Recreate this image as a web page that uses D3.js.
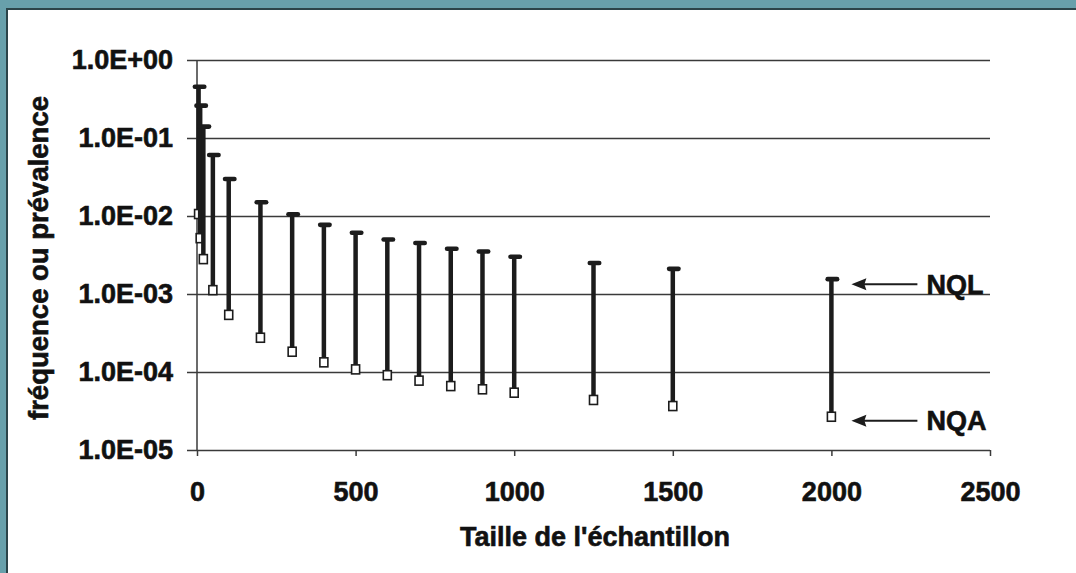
<!DOCTYPE html>
<meta charset="utf-8">
<style>

body {
  margin: 0;
  background: #fff;
}

text {
  font-family: "Liberation Sans", Arial, sans-serif;
  font-weight: bold;
  fill: #111;
  stroke: #111;
  stroke-width: 0.6;
}

.axis text {
  font-size: 27px;
}

.grid line,
.axis path,
.axis line {
  stroke: #3a3a3a;
  stroke-width: 1.5;
}

</style>
<body>
<script src="https://cdnjs.cloudflare.com/ajax/libs/d3/7.8.5/d3.min.js"></script>
<script>

// sample sizes and the two limits
var sizes = [5, 10, 20, 50, 100, 200, 300, 400, 500, 600, 700, 800, 900, 1000, 1250, 1500, 2000];
var nql = [0.455, 0.26, 0.14, 0.0605, 0.0298, 0.015, 0.0105, 0.0077, 0.0061, 0.0050, 0.0045,
           0.0038, 0.0035, 0.0030, 0.0025, 0.0021, 0.00155];
var nqa = [0.0106, 0.0052, 0.0028, 0.00112, 0.00054, 0.000275, 0.000182, 0.000133, 0.000108,
           0.000091, 0.0000775, 0.000066, 0.00006, 0.0000543, 0.0000438, 0.0000366, 0.0000267];

var xTicks = [0, 500, 1000, 1500, 2000, 2500];
var yTicks = [1, 0.1, 0.01, 0.001, 0.0001, 0.00001];
var yTickLabels = ["1.0E+00", "1.0E-01", "1.0E-02", "1.0E-03", "1.0E-04", "1.0E-05"];

var width = 1076,
    height = 573;

var svg = d3.select("body").append("svg")
    .attr("width", width)
    .attr("height", height);

// teal frame, top and left
svg.append("rect").attr("x", 0).attr("y", 0).attr("width", width).attr("height", 8).attr("fill", "#68a0ab");
svg.append("rect").attr("x", 0).attr("y", 0).attr("width", 6).attr("height", height).attr("fill", "#68a0ab");
svg.append("rect").attr("x", 6).attr("y", 8).attr("width", width).attr("height", 2).attr("fill", "#2c4449");
svg.append("rect").attr("x", 6).attr("y", 8).attr("width", 2).attr("height", height).attr("fill", "#2c4449");

var x = d3.scaleLinear()
    .domain([0, 2500])
    .range([197, 990]);

var y = d3.scaleLog()
    .domain([1e-5, 1])
    .range([450, 60]);

// horizontal grid + y ticks
var gy = svg.append("g")
    .attr("class", "axis grid")
    .attr("transform", "translate(" + x(0) + ",0)")
    .call(d3.axisLeft(y)
        .tickValues(yTicks)
        .tickSize(-(x(2500) - x(0)))
        .tickPadding(24)
        .tickFormat(function(d, i) { return yTickLabels[i]; }));
gy.selectAll(".tick line").attr("x1", -10);
gy.select(".domain").attr("d", "M0," + y(1) + "V" + y(1e-5));

// x axis
var gx = svg.append("g")
    .attr("class", "axis")
    .attr("transform", "translate(0," + y(1e-5) + ")")
    .call(d3.axisBottom(x)
        .tickValues(xTicks)
        .tickSize(6)
        .tickSizeOuter(0)
        .tickPadding(26)
        .tickFormat(d3.format("d")));
gx.select(".domain").remove();

// axis titles
svg.append("text")
    .attr("x", 595)
    .attr("y", 546)
    .attr("text-anchor", "middle")
    .style("font-size", "27px")
    .text("Taille de l'échantillon");

svg.append("text")
    .attr("transform", "translate(48,258) rotate(-90)")
    .attr("text-anchor", "middle")
    .style("font-size", "27.5px")
    .text("fréquence ou prévalence");

// bars from NQA up to NQL
var bars = svg.append("g").selectAll("g")
    .data(sizes)
  .enter().append("g");

bars.append("line")
    .attr("x1", function(d) { return x(d); })
    .attr("x2", function(d) { return x(d); })
    .attr("y1", function(d, i) { return y(nqa[i]); })
    .attr("y2", function(d, i) { return y(nql[i]); })
    .attr("stroke", "#1c1c1c")
    .attr("stroke-width", 4.5);

bars.append("rect")
    .attr("x", function(d) { return x(d) - 6; })
    .attr("y", function(d, i) { return y(nql[i]) - 2.3; })
    .attr("width", 14)
    .attr("height", 4.6)
    .attr("rx", 2.3)
    .attr("fill", "#1c1c1c");

bars.append("rect")
    .attr("x", function(d) { return x(d) - 4; })
    .attr("y", function(d, i) { return y(nqa[i]) - 4.5; })
    .attr("width", 8)
    .attr("height", 9)
    .attr("fill", "#fff")
    .attr("stroke", "#1c1c1c")
    .attr("stroke-width", 1.6);

// NQL / NQA pointers
var last = sizes.length - 1;
var notes = [
  {label: "NQL", v: nql[last], dy: 5},
  {label: "NQA", v: nqa[last], dy: 4}
];

var ann = svg.append("g").selectAll("g")
    .data(notes)
  .enter().append("g")
    .attr("transform", function(d) { return "translate(" + (x(2000) + 20) + "," + (y(d.v) + d.dy) + ")"; });

ann.append("line")
    .attr("x1", 10)
    .attr("x2", 66)
    .attr("stroke", "#1c1c1c")
    .attr("stroke-width", 2);

ann.append("path")
    .attr("d", "M0,0L15,-6L13,0L15,6Z")
    .attr("fill", "#1c1c1c");

ann.append("text")
    .attr("x", 75)
    .attr("dy", "0.36em")
    .style("font-size", "27px")
    .text(function(d) { return d.label; });

</script>
